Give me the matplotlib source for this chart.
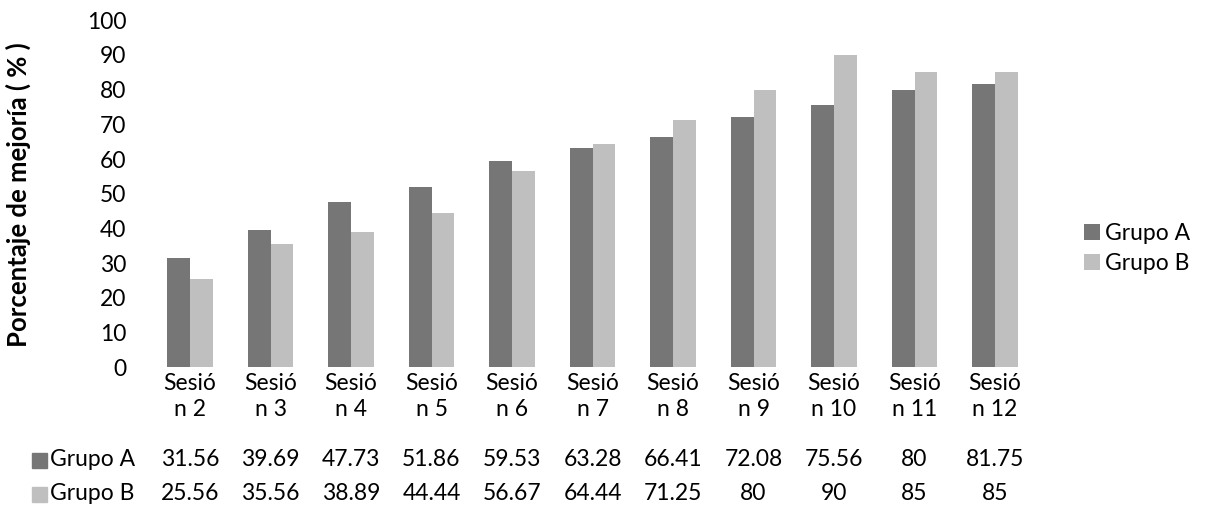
import matplotlib
matplotlib.use("Agg")
import matplotlib.pyplot as plt
import numpy as np
from matplotlib.patches import Rectangle

plt.rcParams['font.family'] = ['Lato', 'DejaVu Sans']

sesiones = ["Sesió\nn 2", "Sesió\nn 3", "Sesió\nn 4", "Sesió\nn 5", "Sesió\nn 6",
            "Sesió\nn 7", "Sesió\nn 8", "Sesió\nn 9", "Sesió\nn 10", "Sesió\nn 11",
            "Sesió\nn 12"]
grupo_a = [31.56, 39.69, 47.73, 51.86, 59.53, 63.28, 66.41, 72.08, 75.56, 80, 81.75]
grupo_b = [25.56, 35.56, 38.89, 44.44, 56.67, 64.44, 71.25, 80, 90, 85, 85]
series_names = ["Grupo A", "Grupo B"]
colors = ["#767676", "#BFBFBF"]

W, H = 1208, 518
FS = 16.5

fig = plt.figure(figsize=(W / 100, H / 100), dpi=100)
ax = fig.add_axes([0.124, 0.291, 0.733, 0.670])

x = np.arange(len(sesiones))
w = 0.285
ax.bar(x - w / 2, grupo_a, w, color=colors[0], label=series_names[0])
ax.bar(x + w / 2, grupo_b, w, color=colors[1], label=series_names[1])

ax.set_xlim(-0.5, len(sesiones) - 0.5)
ax.set_ylim(0, 100)
ax.set_yticks(range(0, 101, 10))
ax.tick_params(axis='y', length=0, labelsize=FS, pad=17)
ax.tick_params(axis='x', length=0, labelsize=FS, pad=4)
ax.set_xticks(x)
ax.set_xticklabels(sesiones, linespacing=1.3)
for s in ax.spines.values():
    s.set_visible(False)

fig.text(18 / W, 1 - 195 / H, "Porcentaje de mejoría ( % )", fontsize=18.5,
         fontweight='bold', rotation=90, ha='center', va='center')

# legend at the right
ax.legend(loc='center left', bbox_to_anchor=(1.0 + 40 / 885, 1 - (248 - 20) / 347),
          frameon=False, fontsize=FS, handlelength=0.7, handleheight=0.7,
          handletextpad=0.2, labelspacing=0.4, borderaxespad=0)

# data table under the axis
row_y = [460, 494]
for vals, name, col, ry in zip([grupo_a, grupo_b], series_names, colors, row_y):
    yf = 1 - ry / H
    fig.patches.append(Rectangle((32 / W, yf - 7.5 / H), 15 / W, 15 / H,
                                 transform=fig.transFigure, color=col))
    fig.text(50 / W, yf, name, fontsize=FS, va='center', ha='left')
    for xi, v in zip(x, vals):
        xd = ax.transData.transform((xi, 0))[0]
        fig.text(xd / W, yf, f"{v:g}", fontsize=FS, va='center', ha='center')

fig.savefig("out.png", dpi=100)
